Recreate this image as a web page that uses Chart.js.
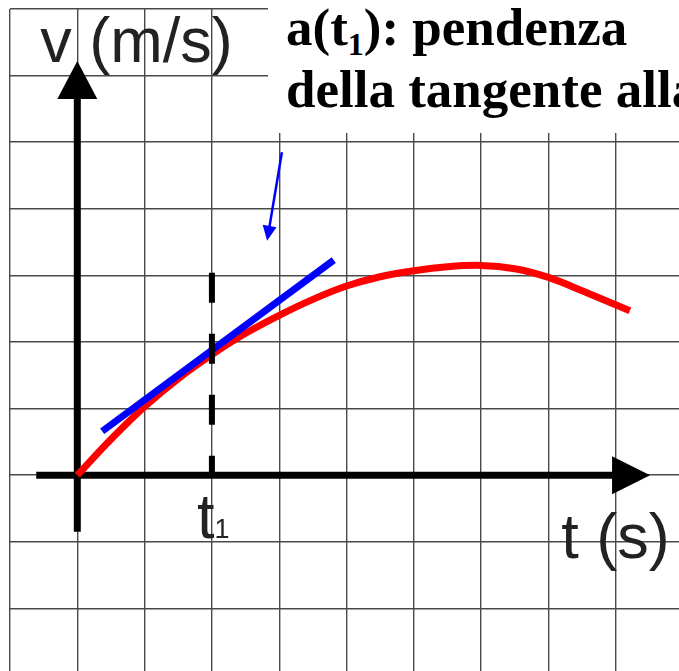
<!DOCTYPE html>
<html>
<head>
<meta charset="utf-8">
<title>v(t) - pendenza della tangente</title>
<script src="https://cdn.jsdelivr.net/npm/chart.js@4.4.1/dist/chart.umd.min.js"></script>
<style>
    html, body { margin: 0; padding: 0; background: #fff; }
    #wrap { position: relative; width: 679px; height: 671px; overflow: hidden; }
    #grafico { position: absolute; left: 0; top: 0; }
    .nota {
        position: absolute; left: 268px; top: 0; width: 411px; height: 133px;
        box-sizing: border-box; padding-left: 18px;
        background: #fff; overflow: hidden; white-space: nowrap;
        font-family: "Liberation Serif", "Times New Roman", serif;
        font-weight: bold; font-size: 53px; line-height: 55px; color: #000;
    }
    .nota .pedice { font-size: 32px; position: relative; top: 10px; }
</style>
</head>
<body>
<div id="wrap">
    <canvas id="grafico" width="679" height="671"></canvas>
    <div class="nota">a(t<span class="pedice">1</span>): pendenza<br>della tangente alla</div>
</div>
<script>
// Curva v(t) (unità = quadretti della griglia)
const curvaT = [0, 0.5, 1.0, 1.5, 2.0, 2.5, 3.0, 3.5, 4.0, 4.5, 5.0, 5.5, 6.0, 6.5, 7.0, 7.5, 8.21];
const curvaV = [0, 0.54, 1.03, 1.45, 1.81, 2.13, 2.40, 2.64, 2.84, 2.98, 3.07, 3.13, 3.15, 3.10, 2.97, 2.77, 2.47];

// Retta tangente in t1
const tangenteT = [0.37, 3.81];
const tangenteV = [0.66, 3.23];

// Istante t1 e altezza della linea tratteggiata
const t1 = 2;
const t1Altezza = 3.04;

// Assi (estremi in quadretti) e freccia blu
const asseX = [-0.61, 8.51];
const asseY = [-0.85, 6.22];
const frecciaCoda = [3.04, 4.85];
const frecciaPunta = [2.82, 3.52];

// Intervallo della griglia
const xMin = -1, xMax = 8.94;
const yMin = -2.94, yMax = 7;

function punti(xs, ys) {
    return xs.map((x, i) => ({ x: x, y: ys[i] }));
}

// Ticks solo sui numeri interi -> una riga per quadretto
function soloInteri(scale) {
    const ticks = [];
    for (let v = Math.ceil(scale.min); v <= scale.max; v++) ticks.push({ value: v });
    scale.ticks = ticks;
}

// Triangolo pieno con la punta in (px, py) orientato secondo l'angolo
function disegnaPunta(ctx, px, py, angolo, lunghezza, mezzaBase, colore) {
    ctx.save();
    ctx.translate(px, py);
    ctx.rotate(angolo);
    ctx.beginPath();
    ctx.moveTo(0, 0);
    ctx.lineTo(-lunghezza, -mezzaBase);
    ctx.lineTo(-lunghezza, mezzaBase);
    ctx.closePath();
    ctx.fillStyle = colore;
    ctx.fill();
    ctx.restore();
}

const decorazioni = {
    id: 'decorazioni',
    afterDatasetsDraw(chart) {
        const ctx = chart.ctx;
        const sx = chart.scales.x;
        const sy = chart.scales.y;

        // Punte degli assi
        disegnaPunta(ctx, sx.getPixelForValue(asseX[1]), sy.getPixelForValue(0), 0, 38, 19, '#000');
        disegnaPunta(ctx, sx.getPixelForValue(0), sy.getPixelForValue(asseY[1]), -Math.PI / 2, 38, 20, '#000');

        // Freccia blu che indica la tangente
        const cx = sx.getPixelForValue(frecciaCoda[0]);
        const cy = sy.getPixelForValue(frecciaCoda[1]);
        const px = sx.getPixelForValue(frecciaPunta[0]);
        const py = sy.getPixelForValue(frecciaPunta[1]);
        const ang = Math.atan2(py - cy, px - cx);
        ctx.save();
        ctx.strokeStyle = '#0000ff';
        ctx.lineWidth = 2.5;
        ctx.beginPath();
        ctx.moveTo(cx, cy);
        ctx.lineTo(px - Math.cos(ang) * 12, py - Math.sin(ang) * 12);
        ctx.stroke();
        ctx.restore();
        disegnaPunta(ctx, px, py, ang, 15, 7, '#0000ff');

        // Etichette degli assi
        ctx.save();
        ctx.fillStyle = '#222';
        ctx.textBaseline = 'alphabetic';
        ctx.textAlign = 'left';
        ctx.font = '63px "Liberation Sans", Arial, sans-serif';
        ctx.fillText('v (m/s)', sx.getPixelForValue(-0.55), sy.getPixelForValue(6.21));
        ctx.fillText('t (s)', sx.getPixelForValue(7.19), sy.getPixelForValue(-1.24));
        const tx = sx.getPixelForValue(1.78);
        const ty = sy.getPixelForValue(-0.94);
        ctx.fillText('t', tx, ty);
        const larghezzaT = ctx.measureText('t').width;
        ctx.font = '27px "Liberation Sans", Arial, sans-serif';
        ctx.fillText('1', tx + larghezzaT, ty);
        ctx.restore();
    }
};

const griglia = { color: '#4a4a4a', lineWidth: 1.4, drawTicks: false };

new Chart(document.getElementById('grafico'), {
    type: 'scatter',
    data: {
        datasets: [
            {
                // linea tratteggiata verticale in t1 (disegnata dall'alto)
                data: punti([t1, t1], [t1Altezza, 0]),
                showLine: true,
                borderColor: '#000',
                borderWidth: 6,
                borderDash: [30, 31],
                borderCapStyle: 'butt',
                pointRadius: 0
            },
            {
                data: punti(tangenteT, tangenteV),
                showLine: true,
                borderColor: '#0000ff',
                borderWidth: 7,
                borderCapStyle: 'butt',
                pointRadius: 0
            },
            {
                data: punti(curvaT, curvaV),
                showLine: true,
                borderColor: '#ff0000',
                borderWidth: 7,
                tension: 0.35,
                borderCapStyle: 'butt',
                borderJoinStyle: 'round',
                pointRadius: 0
            },
            {
                // asse t
                data: punti([asseX[0], asseX[1] - 0.5], [0, 0]),
                showLine: true,
                borderColor: '#000',
                borderWidth: 7,
                pointRadius: 0
            },
            {
                // asse v
                data: punti([0, 0], [asseY[0], asseY[1] - 0.5]),
                showLine: true,
                borderColor: '#000',
                borderWidth: 7,
                pointRadius: 0
            }
        ]
    },
    options: {
        responsive: false,
        animation: false,
        layout: { padding: { left: 10, top: 9, right: 0, bottom: 0 } },
        plugins: {
            legend: { display: false },
            tooltip: { enabled: false }
        },
        scales: {
            x: {
                type: 'linear',
                min: xMin,
                max: xMax,
                grid: griglia,
                border: { display: false },
                ticks: { display: false },
                afterBuildTicks: soloInteri
            },
            y: {
                type: 'linear',
                min: yMin,
                max: yMax,
                grid: griglia,
                border: { display: false },
                ticks: { display: false },
                afterBuildTicks: soloInteri
            }
        }
    },
    plugins: [decorazioni]
});
</script>
</body>
</html>
